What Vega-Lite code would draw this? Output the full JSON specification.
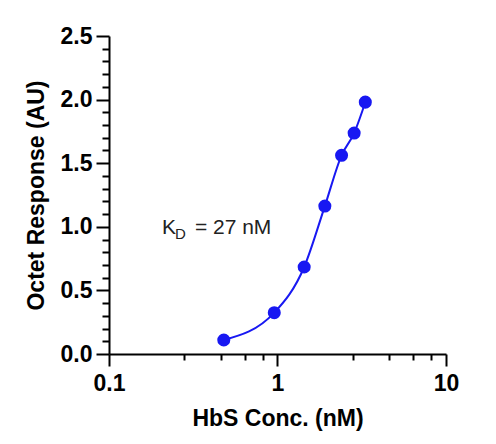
{
  "$schema": "https://vega.github.io/schema/vega-lite/v6.json",
  "width": 337,
  "height": 318,
  "padding": 25,
  "config": {
    "view": {"stroke": null}
  },
  "resolve": {"axis": {"x": "independent", "y": "independent"}},
  "layer": [
    {
      "data": {"values": [
        {"conc": 0.48, "resp": 0.11},
        {"conc": 0.957, "resp": 0.325},
        {"conc": 1.44, "resp": 0.684},
        {"conc": 1.91, "resp": 1.163},
        {"conc": 2.40, "resp": 1.562},
        {"conc": 2.85, "resp": 1.737},
        {"conc": 3.32, "resp": 1.98}
      ]},
      "mark": {"type": "line", "color": "#1818f2", "strokeWidth": 2, "interpolate": "monotone"},
      "encoding": {
        "x": {
          "field": "conc", "type": "quantitative",
          "scale": {"type": "log", "domain": [0.1, 10], "nice": false},
          "axis": {
            "orient": "bottom",
            "title": "HbS Conc. (nM)",
            "values": [0.1, 1, 10],
            "format": "~g",
            "labelFlush": false,
            "labelOverlap": false,
            "grid": false,
            "domainColor": "black", "domainWidth": 2,
            "tickColor": "black", "tickWidth": 2, "tickSize": 12,
            "labelFont": "Liberation Sans", "titleFont": "Liberation Sans",
            "labelColor": "black", "labelFontSize": 23, "labelFontWeight": "bold", "labelPadding": 6,
            "titleColor": "black", "titleFontSize": 23, "titleFontWeight": "bold", "titlePadding": 12
          }
        },
        "y": {
          "field": "resp", "type": "quantitative",
          "scale": {"domain": [0, 2.5], "nice": false},
          "axis": {
            "orient": "left",
            "title": "Octet Response (AU)",
            "values": [0, 0.5, 1, 1.5, 2, 2.5],
            "format": ".1f",
            "labelOverlap": false,
            "labelFlush": false,
            "grid": false,
            "domainColor": "black", "domainWidth": 2,
            "tickColor": "black", "tickWidth": 2, "tickSize": 13,
            "labelFont": "Liberation Sans", "titleFont": "Liberation Sans",
            "labelColor": "black", "labelFontSize": 23, "labelFontWeight": "bold", "labelPadding": 4,
            "titleColor": "black", "titleFontSize": 23, "titleFontWeight": "bold", "titlePadding": 12
          }
        }
      }
    },
    {
      "data": {"values": [
        {"conc": 0.48, "resp": 0.11},
        {"conc": 0.957, "resp": 0.325},
        {"conc": 1.44, "resp": 0.684},
        {"conc": 1.91, "resp": 1.163},
        {"conc": 2.40, "resp": 1.562},
        {"conc": 2.85, "resp": 1.737},
        {"conc": 3.32, "resp": 1.98}
      ]},
      "mark": {"type": "point", "filled": true, "shape": "circle", "size": 170, "color": "#1818f2", "opacity": 1},
      "encoding": {
        "x": {
          "field": "conc", "type": "quantitative",
          "axis": {
            "orient": "bottom",
            "title": null,
            "values": [0.28, 0.46, 0.64, 0.82, 2.8, 4.6, 6.4, 8.2],
            "labels": false,
            "domain": false,
            "grid": false,
            "tickColor": "black", "tickWidth": 2, "tickSize": 6
          }
        },
        "y": {
          "field": "resp", "type": "quantitative",
          "axis": {
            "orient": "left",
            "title": null,
            "values": [0.1, 0.2, 0.3, 0.4, 0.6, 0.7, 0.8, 0.9, 1.1, 1.2, 1.3, 1.4, 1.6, 1.7, 1.8, 1.9, 2.1, 2.2, 2.3, 2.4],
            "labels": false,
            "domain": false,
            "grid": false,
            "tickColor": "black", "tickWidth": 2, "tickSize": 7
          }
        }
      }
    },
    {
      "data": {"values": [{"conc": 0.206, "resp": 1.0, "k": "K", "d": "D", "rest": "= 27 nM"}]},
      "mark": {"type": "text", "align": "left", "baseline": "alphabetic", "font": "Liberation Sans", "fontSize": 21, "color": "#222222", "dy": 7},
      "encoding": {
        "x": {"field": "conc", "type": "quantitative", "axis": null},
        "y": {"field": "resp", "type": "quantitative", "axis": null},
        "text": {"field": "k"}
      }
    },
    {
      "data": {"values": [{"conc": 0.206, "resp": 1.0, "k": "K", "d": "D", "rest": "= 27 nM"}]},
      "mark": {"type": "text", "align": "left", "baseline": "alphabetic", "font": "Liberation Sans", "fontSize": 15, "color": "#222222", "dx": 13, "dy": 12},
      "encoding": {
        "x": {"field": "conc", "type": "quantitative", "axis": null},
        "y": {"field": "resp", "type": "quantitative", "axis": null},
        "text": {"field": "d"}
      }
    },
    {
      "data": {"values": [{"conc": 0.206, "resp": 1.0, "k": "K", "d": "D", "rest": "= 27 nM"}]},
      "mark": {"type": "text", "align": "left", "baseline": "alphabetic", "font": "Liberation Sans", "fontSize": 21, "color": "#222222", "dx": 33, "dy": 7},
      "encoding": {
        "x": {"field": "conc", "type": "quantitative", "axis": null},
        "y": {"field": "resp", "type": "quantitative", "axis": null},
        "text": {"field": "rest"}
      }
    }
  ]
}
